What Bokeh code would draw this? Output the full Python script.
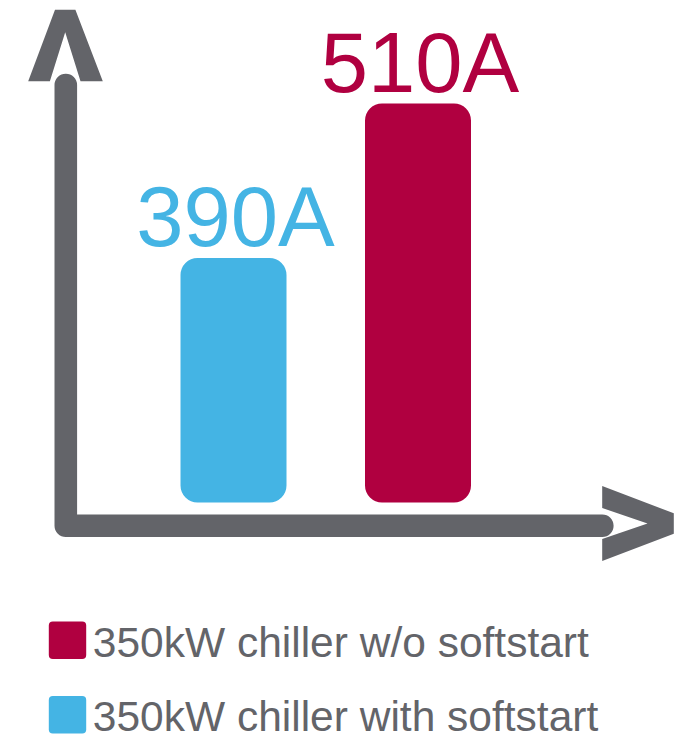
from bokeh.plotting import figure
from bokeh.models import Range1d, ColumnDataSource
from bokeh.core.properties import value
from bokeh.embed import file_html
from bokeh.resources import INLINE

# ---------------- data ----------------
series_names = ["350kW chiller with softstart", "350kW chiller w/o softstart"]
starting_current = [390, 510]          # amperes
current_labels = ["390A", "510A"]
bar_colors = ["#44B4E4", "#B00040"]
legend_order = [1, 0]                  # legend lists "w/o" first

# ---------------- layout / scale ----------------
W, H, M = 679, 740, 0
AXIS_COLOR = "#636469"
TEXT_COLOR = "#636469"
FONT = "Liberation Sans"

X_PX_PER_CAT = 184.5       # pixels between bar centres
Y_PX_PER_AMP = 1.2871      # pixels per ampere
BASE_AMP = 200             # value at the (truncated) origin line of the bars
X0_PAGE = 233              # page x of first category
BASE_PAGE = 502            # page y of BASE_AMP


def X(px):
    return (px - X0_PAGE) / X_PX_PER_CAT


def Y(py):
    return BASE_AMP + (BASE_PAGE - py) / Y_PX_PER_AMP


p = figure(width=W, height=H,
           x_range=Range1d(X(M), X(M + W)),
           y_range=Range1d(Y(M + H), Y(M)),
           output_backend="svg", toolbar_location=None,
           x_axis_location=None, y_axis_location=None,
           min_border=0, outline_line_color=None,
           background_fill_color="white", border_fill_color="white")
p.grid.visible = False
p.title.visible = False

# ---------------- axes drawn as thick arrows ----------------
p.line([X(65.3), X(65.3), X(601.8)], [Y(84.5), Y(525.3), Y(525.3)],
       line_width=22.6, line_color=AXIS_COLOR, line_cap="round", line_join="round")

up_px = [27.7, 54.5, 74.9, 102.3, 80.0, 64.7, 49.4]
up_py = [80.7, 9.3, 9.3, 80.7, 80.7, 31.7, 80.7]
p.patch([X(v) for v in up_px], [Y(v) for v in up_py],
        fill_color=AXIS_COLOR, line_color=None)

rt_px = [601.7, 673.3, 673.3, 601.7, 601.7, 647.0, 601.7]
rt_py = [485.5, 512.8, 533.2, 560.5, 538.5, 523.0, 507.5]
p.patch([X(v) for v in rt_px], [Y(v) for v in rt_py],
        fill_color=AXIS_COLOR, line_color=None)

# ---------------- bars & value labels ----------------
src = ColumnDataSource(dict(x=list(range(len(starting_current))),
                            top=starting_current,
                            label=current_labels,
                            color=bar_colors))
p.vbar(x="x", top="top", bottom=BASE_AMP, width=106 / X_PX_PER_CAT,
       fill_color="color", line_color=None, border_radius=17, source=src)
p.text(x="x", y="top", text="label", text_color="color",
       text_font=value(FONT), text_font_size="85px",
       text_align="center", text_baseline="alphabetic",
       x_offset=2, y_offset=-41, source=src)

# ---------------- legend ----------------
leg_sq_y = [Y(639.7), Y(714.3)]
leg_txt_y = [Y(657.0 - 15.2), Y(731.5 - 15.2)]
leg_src = ColumnDataSource(dict(
    xs=[X(67.0)] * 2,
    xt=[X(92.3)] * 2,
    ys=leg_sq_y,
    yt=leg_txt_y,
    name=[series_names[i] for i in legend_order],
    color=[bar_colors[i] for i in legend_order]))
p.rect(x="xs", y="ys", width=37.4, height=37.4, width_units="screen", height_units="screen",
       fill_color="color", line_color=None, border_radius=4, source=leg_src)
p.text(x="xt", y="yt", text="name", text_color=TEXT_COLOR,
       text_font=value(FONT), text_font_size="42.5px",
       text_align="left", text_baseline="alphabetic", source=leg_src)

open("out.html", "w").write(file_html(p, INLINE))
